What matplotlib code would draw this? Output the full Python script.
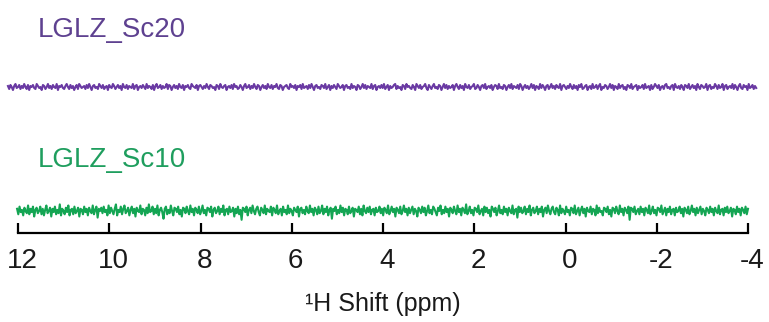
import numpy as np
import matplotlib
matplotlib.use("Agg")
import matplotlib.pyplot as plt
import matplotlib.transforms as mtransforms

plt.rcParams["font.family"] = ["Liberation Sans", "DejaVu Sans"]

# Sample names and trace colours
samples = ["LGLZ_Sc20", "LGLZ_Sc10"]
colors = ["#6a3aa3", "#14a553"]
label_colors = ["#5e4190", "#1f9e5e"]

# Chemical shift axis
tick_values = [12, 10, 8, 6, 4, 2, 0, -2, -4]
sc20_ppm_range = (12.22, -4.18)
sc10_ppm_range = (12.02, -4.0)

# Baseline intensities (arbitrary units) for each spectrum
sc20_intensity = [
    1, -2, 2, 0, -3, 1, 3, -1, 0, 2, -2, 1, -1, 3, 0, -2, 2, -3, 1, 0, 2, -1, -2, 3, 1, -1, 0, -3, 2, 1,
    -2, 0, 3, -1, 1, -2, 2, 0, -1, 3, -3, 1, 0, 2, -1, -2, 1, 3, 0, -2, 2, -1, 1, -3, 0, 2, -2, 3, 1, -1,
    0, 1, -2, 2, -1, 3, 0, -3, 1, 2, -1, 0, -2, 3, 1, -1, 2, -2, 0, 1, -3, 2, 0, -1, 3, 1, -2, 0, 2, -1,
    1, -3, 3, 0, -1, 2, -2, 1, 0, -1, 3, -2, 1, 2, -3, 0, 1, -1, 2, 0, -2, 3, -1, 1, 0, -2, 2, -3, 1, 3,
    -1, 0, 2, -2, 1, -1, 0, 3, -2, 2, 1, -3, 0, 2, -1, 1, -2, 3, 0, -1, 2, -3, 1, 0, 2, -1, -2, 3, 1, 0,
    -1, 2, -3, 1, 2, 0, -2, 1, -1, 3, 0, -2, 2, 1, -1, 0, -3, 2, 1, -2, 3, 0, -1, 1, 2, -3, 0, 1, -1, 2,
    -2, 3, 0, 1, -2, -1, 2, 0, -3, 1, 3, -1, 0, 2, -2, 1, -1, 3, 0, -2, 2, 1, -3, 0, 2, -1, 1, -2, 3, 0,
    -1, 2, -2, 1, 0, 3, -1, -2, 2, 1, -3, 0, 1, 2, -1, -2, 3, 0, 1, -1, 2, -3, 1, 0, 2, -2, 3, -1, 0, 1,
    -2, 2, -1, 3, 0, -3, 1, 2, -1, 0, -2, 2, 1, -1, 3, -2, 0, 2, -3, 1, -1, 2, 0, -2, 3, 1, -1, 0, 2, -3,
    1, 2, -1, 0, -2, 3, -1, 1, 0, -3, 2, 1, -2, 0, 3, -1, 2, -2, 1, 0, -1, 3, -2, 1, 2, -3, 0, 1, -1, 2,
    -1, 3, -2, 0, 2, -3, 1, -1, 0, 2, 3, -2, 1, -1, 0, -3, 2, 1, -2, 3, 0, 1, -1, -2, 2, 0, -3, 3, 1, -1,
    2, -2, 0, 1, 3, -1, -3, 2, 0, -2, 1, 3, -1, 0, -2, 2, 1, -3, 0, 3, -1, 2, -2, 1, -1, 0, 2, -3, 1, 3,
    0, -2, 2, -1, 1, -3, 3, 0, -1, 2, -2, 0, 1, 3, -2, -1, 2, 0, -3, 1, 2, -1, 3, -2, 0, 1, -1, 2, -3, 0,
    2, 1, -2, 3, -1, 0, -2, 2, 1, -3, 0, 2, -1, 3, -2, 1, 0, -1, 2, -2, 3, 1, -3, 0, 2, -1, 1, -2, 0, 3,
    -1, 2, -3, 1, 0, -2, 3, -1, 2, 0, -3, 1, 2, -2, 0, 3, -1, 1, -2, 2, 0, -1, 3, -3, 1, 2, 0, -2, 1, -1,
    3, 0, -2, 2, -1, 1, -3, 2, 0, 3, -2, -1, 1, 2, -3, 0, 1, -2, 3, -1, 0, 2, -2, 1, 3, -3, 0, -1, 2, 1,
    -2, 0, 3, -1, 2, -3, 1, 0, -2, 3, -1, 1, 2, -2, 0, -3, 2, 1, -1, 3, -2, 0, 1, 2, -3, 1, -1, 0, 2, -2,
    3, -1, 0, 1, -3, 2, -2, 0, 3, 1, -1, 2, -3, 0, 1, -2, 2, 3, -1, 0, -2, 1, 2, -3, 3, 0, -1, 1, -2, 2,
    0, -3, 2, 1, -1, 3, -2, 0, 2, -1, 1, -3, 3, 0, -2, 2, 1, -1, 0, 3, -3, 1, 2, -2, 0, -1, 3, 1, -2, 2,
    -1, 0, 3, -3, 1, 2, -2, 0, 1, -1, 3, -2, 2, 0, -3, 1, 3, -1, -2, 2, 0, 1, -3, 3, -1, 0, 2, -2, 1, -1,
]

sc10_intensity = [
    2, -3, 4, -1, 1, -4, 3, 0, -2, 5, -3, 2, -1, 4, -5, 1, 3, -2, 0, 4, -3, 2, -4, 1, 5, -2, 0, 3, -5, 2,
    -1, 4, -3, 1, -2, 6, -4, 2, 0, -3, 3, -1, 5, -4, 1, 2, -3, 4, -2, 0, 3, -5, 2, 1, -3, 4, -1, 2, -4, 3,
    0, -2, 5, -3, 1, 4, -6, 2, 0, 3, -2, 4, -1, 1, -4, 5, -2, 3, 0, -3, 2, 6, -4, 1, -1, 4, -3, 2, 5, -2,
    0, 3, -4, 1, 4, -2, 2, -5, 3, 0, -1, 5, -3, 2, 1, -4, 3, -2, 6, -1, 0, 4, -3, 2, -2, 5, -4, 1, 3, -1,
    -7, 2, 4, -3, 1, -2, 5, 0, -4, 3, 2, -1, 4, -3, 1, -5, 3, 2, -2, 4, 0, -3, 5, -1, 2, -4, 3, 1, -2, 4,
    -3, 0, 5, -2, 1, -4, 3, 2, -1, 4, -5, 1, 3, -2, 0, 4, -3, 2, -1, 5, -4, 1, 2, -3, 4, -1, 0, 3, -5, 2,
    -2, 4, -3, 1, -8, 3, 2, -1, 4, -4, 1, 3, -2, 5, 0, -3, 2, 4, -1, -4, 3, 1, -2, 5, -3, 2, 0, -1, 4, -4,
    3, 1, -2, 5, -3, 0, 2, -4, 4, -1, 1, -3, 5, -2, 2, 0, -4, 3, 1, -1, 4, -5, 2, 3, -2, 1, -3, 4, 0, -2,
    5, -1, 2, -4, 3, 1, -3, 4, -2, 0, 5, -3, 2, -1, 4, -4, 1, 3, -7, 2, 0, 4, -3, 1, -2, 5, -1, 3, -4, 2,
    1, -3, 4, -2, 0, 3, -5, 2, 1, -1, 4, -3, 2, -4, 5, 0, -2, 3, -1, 4, -3, 1, 2, -4, 3, -1, 0, 4, -2, 2,
    -4, 3, 1, -2, 5, -3, 0, 4, -1, 2, -5, 3, 1, -2, 4, -3, 0, 5, -1, 2, -4, 3, -2, 1, 4, -3, 2, 0, -5, 3,
    1, -2, 4, -1, 3, -4, 0, 5, -2, 1, -3, 4, 2, -1, -4, 3, 0, 5, -3, 1, -2, 4, -1, 2, -5, 3, 1, -2, 4, 0,
    -3, 5, -1, 2, -4, 3, 1, -2, 6, -3, 0, 4, -2, 1, -4, 3, 2, -1, 5, -3, 0, 2, -4, 4, -1, 3, -2, 1, -5, 4,
    2, -1, 3, -4, 0, 5, -2, 1, -3, 4, -1, 2, -4, 3, 0, -2, 5, -3, 1, 2, -6, 4, -1, 3, -2, 0, 4, -3, 2, -1,
    5, -4, 1, 3, -2, 0, 4, -3, 2, -1, 4, -5, 1, 3, -2, 5, 0, -3, 2, 4, -1, -3, 3, 1, -4, 5, -2, 2, 0, -3,
    4, -1, 1, -4, 3, 2, -2, 5, -3, 0, 3, -4, 1, 4, -2, 2, -5, 3, 0, -1, 4, -3, 2, 1, -4, 5, -2, 3, -1, 0,
    -4, 3, 2, -1, 4, -3, 1, -5, 3, 2, -2, 4, 0, -3, 5, -1, 2, -4, 3, 1, -2, 4, -8, 3, 2, -1, 4, -3, 0, 2,
    -3, 4, -1, 2, -4, 3, 1, -2, 5, -3, 0, 4, -2, 1, -4, 3, 2, -1, 5, -3, 0, 3, -4, 2, -1, 4, -3, 1, 2, -4,
    3, -1, 0, 4, -2, 2, -5, 3, 1, -2, 4, -3, 0, 5, -1, 2, -4, 3, -2, 1, 4, -3, 2, 0, -4, 3, 1, -2, 4, -1,
    2, -4, 3, 0, -2, 5, -3, 1, 2, -4, 3, -1, 4, -2, 0, 3, -5, 2, 1, -3, 4, -1, 2, -4, 3, 1, -2, 4, -3, 2,
]

# Vertical offsets of the stacked spectra above the shift axis
offsets = [146, 22]
label_heights = [196, 66]
label_x = 11.56
scales = [1.0, 1.1]

fig = plt.figure(figsize=(7.69, 3.22), dpi=100)
ax = fig.add_axes([18 / 769, (322 - 233) / 322, 730 / 769, 233 / 322])
ax.set_xlim(12, -4)
ax.set_ylim(0, 233)

traces = [(sc20_intensity, sc20_ppm_range), (sc10_intensity, sc10_ppm_range)]
for (vals, (p0, p1)), off, sc, col in zip(traces, offsets, scales, colors):
    y = np.asarray(vals, dtype=float) * sc + off
    x = np.linspace(p0, p1, len(y))
    ax.plot(x, y, color=col, lw=1.5, clip_on=False)

for name, lc, h in zip(samples, label_colors, label_heights):
    ax.text(label_x, h, name, color=lc, fontsize=20, ha="left", va="baseline")

for side in ("left", "right", "top"):
    ax.spines[side].set_visible(False)
ax.spines["bottom"].set_linewidth(1.6)
ax.set_yticks([])
ax.set_xticks(tick_values)
ax.set_xticklabels([str(t) for t in tick_values])
ax.tick_params(axis="x", direction="in", length=7, width=1.6, labelsize=20, pad=11,
               labelcolor="#1a1a1a")

# nudge the tick labels slightly to the right
shift = mtransforms.ScaledTranslation(4 / 100, 0, fig.dpi_scale_trans)
for lbl in ax.get_xticklabels():
    lbl.set_transform(lbl.get_transform() + shift)

ax.set_xlabel("\u00b9H Shift (ppm)", fontsize=18, labelpad=13, color="#1a1a1a")

fig.savefig("out.png", dpi=100)
